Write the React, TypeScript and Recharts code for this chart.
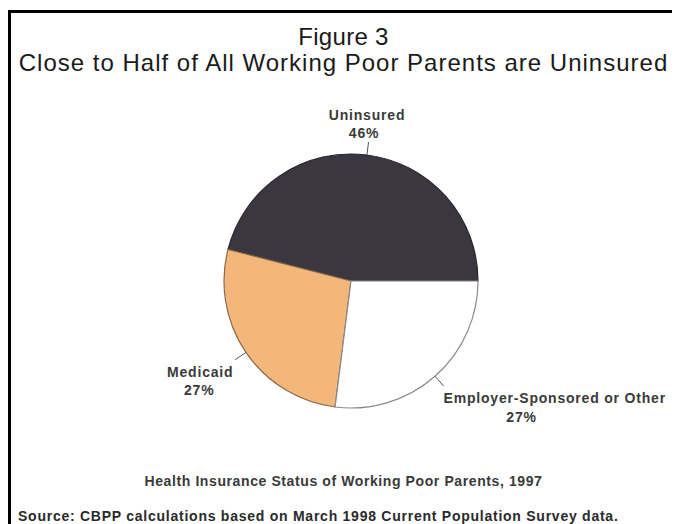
import { PieChart, Pie, Cell } from "recharts";

const categories = ["Uninsured", "Medicaid", "Employer-Sponsored or Other"];
const shares = [46, 27, 27];
const colors = ["#3a3741", "#f3b67b", "#ffffff"];
const strokes = ["#2a2730", "#8a6a4c", "#8a8a8a"];

const TITLE = "Figure 3";
const SUBTITLE = "Close to Half of All Working Poor Parents are Uninsured";
const CAPTION = "Health Insurance Status of Working Poor Parents, 1997";
const SOURCE = "Source: CBPP calculations based on March 1998 Current Population Survey data.";

const data = categories.map((name, i) => ({ name, value: shares[i] }));

const FONT = '"Liberation Sans", Arial, Helvetica, sans-serif';
const RAD = Math.PI / 180;

// where each label sits relative to the end of its leader line
const LABEL_LAYOUT = [
  { nx: -1.5, ny: -22, na: "middle", vx: -4.5, vy: -4, va: "middle" },
  { nx: -35, ny: 17, na: "middle", vx: -36, vy: 35, va: "middle" },
  { nx: 0, ny: 17, na: "start", vx: 78, vy: 36, va: "middle" },
];

function renderLabel(props: any) {
  const { cx, cy, midAngle, outerRadius, index, name, value } = props;
  const cos = Math.cos(-midAngle * RAD);
  const sin = Math.sin(-midAngle * RAD);
  const sx = cx + outerRadius * cos;
  const sy = cy + outerRadius * sin;
  const ex = cx + (outerRadius + 13) * cos;
  const ey = cy + (outerRadius + 13) * sin;
  const l = LABEL_LAYOUT[index];
  const textStyle = {
    fontFamily: FONT,
    fontSize: 14,
    fontWeight: 700,
    letterSpacing: 0.8,
    fill: "#3a3a3a",
  };
  return (
    <g>
      <line x1={sx} y1={sy} x2={ex} y2={ey} stroke="#555" strokeWidth={1} />
      <text x={ex + l.nx} y={ey + l.ny} textAnchor={l.na} style={textStyle}>
        {name}
      </text>
      <text x={ex + l.vx} y={ey + l.vy} textAnchor={l.va} style={textStyle}>
        {value}%
      </text>
    </g>
  );
}

export default function App() {
  return (
    <div
      style={{
        position: "relative",
        top: 2,
        width: 665,
        height: 520,
        border: "3px solid #000",
        background: "#fff",
        fontFamily: FONT,
      }}
    >
      <div
        style={{
          position: "absolute",
          top: 12,
          left: 0,
          width: 665,
          textAlign: "center",
          fontSize: 24,
          lineHeight: 1,
          letterSpacing: 0.3,
          color: "#1a1a1a",
        }}
      >
        {TITLE}
      </div>
      <div
        style={{
          position: "absolute",
          top: 38,
          left: 0,
          width: 665,
          textAlign: "center",
          fontSize: 24,
          lineHeight: 1,
          letterSpacing: 1,
          color: "#1a1a1a",
          whiteSpace: "nowrap",
        }}
      >
        {SUBTITLE}
      </div>
      <div style={{ position: "absolute", top: 0, left: 0 }}>
        <PieChart width={665} height={505}>
          <Pie
            data={data}
            dataKey="value"
            nameKey="name"
            cx={335}
            cy={263}
            outerRadius={127}
            startAngle={0}
            endAngle={360}
            label={renderLabel}
            labelLine={false}
            isAnimationActive={false}
          >
            {data.map((d, i) => (
              <Cell key={d.name} fill={colors[i]} stroke={strokes[i]} strokeWidth={1.2} />
            ))}
          </Pie>
        </PieChart>
      </div>
      <div
        style={{
          position: "absolute",
          top: 461,
          left: 0,
          width: 665,
          textAlign: "center",
          fontSize: 14,
          lineHeight: 1,
          fontWeight: 700,
          letterSpacing: 0.6,
          color: "#3a3a3a",
          whiteSpace: "nowrap",
        }}
      >
        {CAPTION}
      </div>
      <div
        style={{
          position: "absolute",
          top: 496,
          left: 7,
          fontSize: 14,
          lineHeight: 1,
          fontWeight: 700,
          letterSpacing: 0.75,
          color: "#2a2a2a",
          whiteSpace: "nowrap",
        }}
      >
        {SOURCE}
      </div>
    </div>
  );
}
